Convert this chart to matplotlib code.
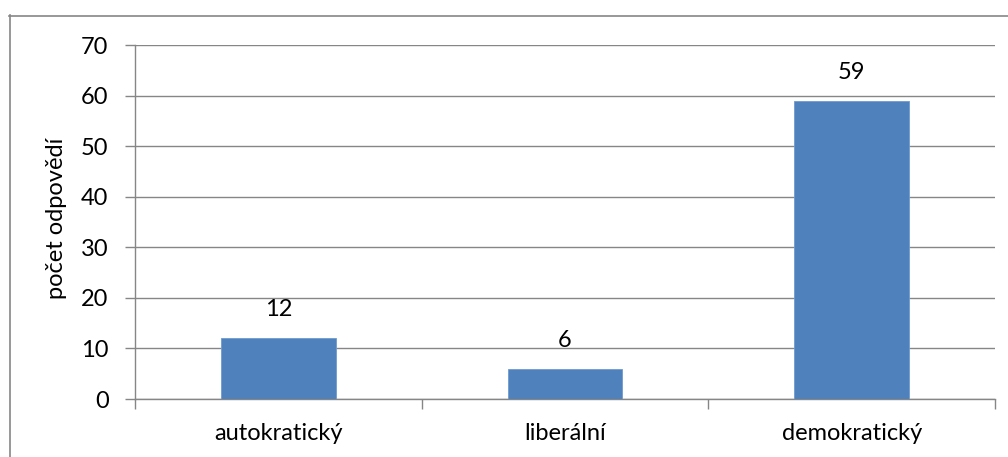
import matplotlib
matplotlib.use("Agg")
from matplotlib import pyplot as plt
from matplotlib.lines import Line2D

categories = ["autokratický", "liberální", "demokratický"]
counts = [12, 6, 59]
y_ticks = [0, 10, 20, 30, 40, 50, 60, 70]

W, H = 1008, 457
plt.rcParams["font.family"] = ["Lato", "DejaVu Sans"]
fs = 17

fig = plt.figure(figsize=(W / 100, H / 100), dpi=100)
ax = fig.add_axes([135 / W, 1 - 399 / H, (995 - 135) / W, (399 - 45) / H])

grey = "#868686"
x = list(range(len(categories)))
ax.bar(x, counts, width=0.4, color="#4F81BD", edgecolor="#6f9ad0", linewidth=0.6, zorder=3)

for xi, v in zip(x, counts):
    ax.annotate(str(v), (xi, v), xytext=(0, 13), textcoords="offset points",
                ha="center", va="bottom", fontsize=fs)

ax.set_xlim(-0.5, len(categories) - 0.5)
ax.set_ylim(0, 70)
ax.set_yticks(y_ticks)
ax.yaxis.grid(True, color=grey, linewidth=1.0, zorder=0)
ax.set_axisbelow(True)

# category labels sit between the boundary tick marks
ax.set_xticks([i - 0.5 for i in range(len(categories) + 1)])
ax.set_xticklabels([])
ax.set_xticks(x, minor=True)
ax.set_xticklabels(categories, minor=True, fontsize=fs)
ax.tick_params(axis="x", which="minor", length=0, pad=17)
ax.tick_params(axis="x", which="major", length=7, color=grey, width=1)
ax.tick_params(axis="y", length=7, color=grey, width=1, labelsize=fs, pad=12)

for s in ["top", "right"]:
    ax.spines[s].set_visible(False)
for s in ["left", "bottom"]:
    ax.spines[s].set_color(grey)
    ax.spines[s].set_linewidth(1.0)

ax.set_ylabel("počet odpovědí", fontsize=fs)
ax.yaxis.set_label_coords(-0.079, 0.51)

# outer chart frame (only left and top edges are visible in the crop)
fig.add_artist(Line2D([9.5 / W, 9.5 / W], [0, 1 - 15 / H], color=grey, linewidth=1.2))
fig.add_artist(Line2D([9 / W, 1], [1 - 15.5 / H, 1 - 15.5 / H], color=grey, linewidth=1.2))

fig.savefig("out.png", dpi=100)
